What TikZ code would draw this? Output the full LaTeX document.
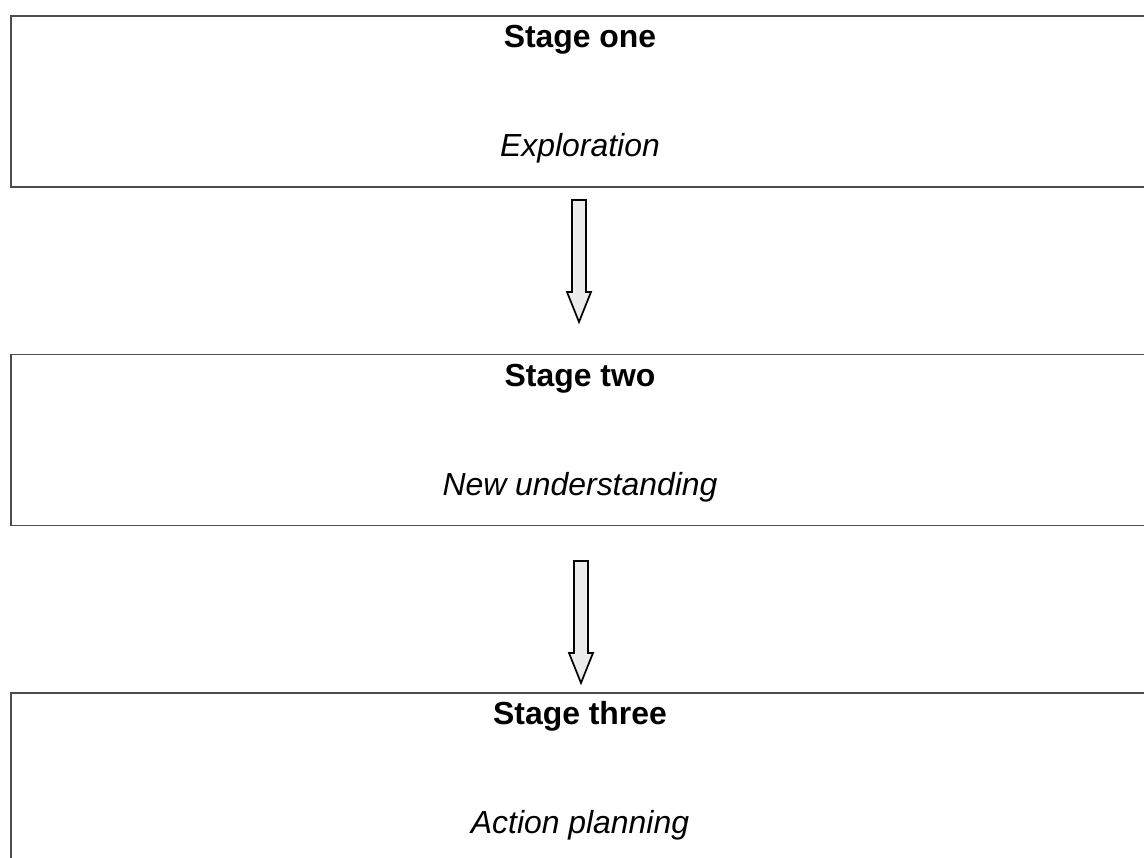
\documentclass[tikz,border=0pt]{standalone}
\usepackage{fontspec}
\setmainfont{Liberation Sans}
\usetikzlibrary{calc}

\tikzset{
  stagebox/.style={draw=black!70, line width=1pt, minimum width=28.725cm, minimum height=4.275cm},
  stagetitle/.style={anchor=base, inner sep=0pt, font=\fontsize{22.7}{27}\selectfont\bfseries},
  stagetext/.style={anchor=base, inner sep=0pt, font=\fontsize{22.7}{27}\selectfont\itshape},
  blockarrow/.style={draw=black, line width=1.2pt, fill=gray!15, line join=miter}
}

\begin{document}
\begin{tikzpicture}
\clip (0,0) rectangle (28.6,-21.45);
\useasboundingbox (0,0) rectangle (28.6,-21.45);

\node (S1) at (14.6375,-2.5375) [stagebox]{};
\node (S1-1) at (14.5,-1.2) [stagetitle]{Stage one};
\node (S1-2) at (14.5,-3.925) [stagetext]{Exploration};

\node (S2) at (14.6375,-11.0) [stagebox]{};
\node (S2-1) at (14.5,-9.65) [stagetitle]{Stage two};
\node (S2-2) at (14.5,-12.375) [stagetext]{New understanding};

\node (S3) at (14.6375,-19.4625) [stagebox]{};
\node (S3-1) at (14.5,-18.1) [stagetitle]{Stage three};
\node (S3-2) at (14.5,-20.825) [stagetext]{Action planning};

\coordinate (A1-top) at (14.475,-5.0);
\coordinate (A1-tip) at (14.475,-8.05);
\coordinate (A2-top) at (14.525,-14.025);
\coordinate (A2-tip) at (14.525,-17.075);

\draw [blockarrow] ($(A1-top)+(-0.175,0)$) -- ($(A1-top)+(0.175,0)$)
  -- ($(A1-tip)+(0.175,0.75)$) -- ($(A1-tip)+(0.3,0.75)$) -- (A1-tip)
  -- ($(A1-tip)+(-0.3,0.75)$) -- ($(A1-tip)+(-0.175,0.75)$) -- cycle;
\draw [blockarrow] ($(A2-top)+(-0.175,0)$) -- ($(A2-top)+(0.175,0)$)
  -- ($(A2-tip)+(0.175,0.75)$) -- ($(A2-tip)+(0.3,0.75)$) -- (A2-tip)
  -- ($(A2-tip)+(-0.3,0.75)$) -- ($(A2-tip)+(-0.175,0.75)$) -- cycle;

\end{tikzpicture}
\end{document}
